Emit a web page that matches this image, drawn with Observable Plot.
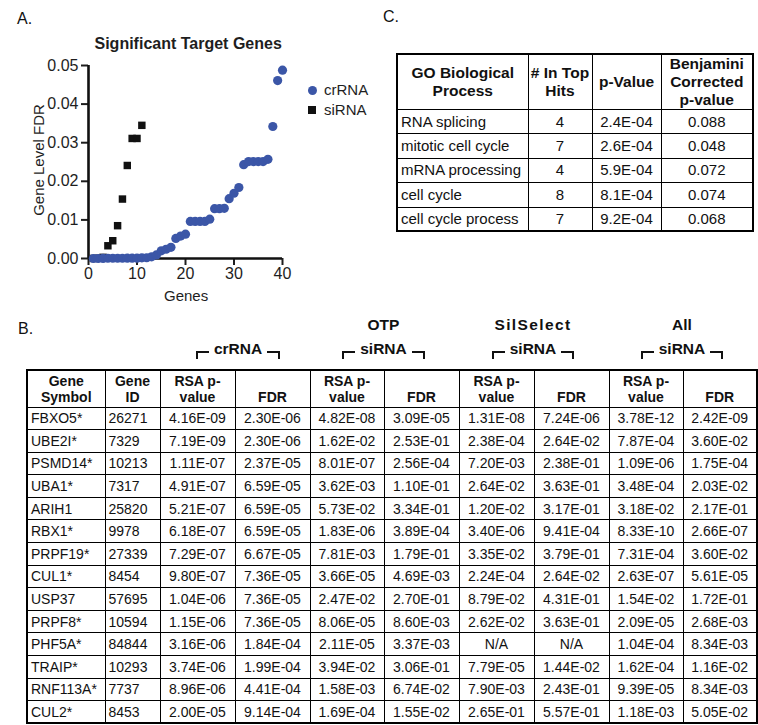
<!DOCTYPE html>
<html><head><meta charset="utf-8">
<script src="https://cdn.jsdelivr.net/npm/d3@7"></script>
<script src="https://cdn.jsdelivr.net/npm/@observablehq/plot@0.6"></script>
<style>
body{margin:0;background:#fff;font-family:"Liberation Sans",Arial,Helvetica,sans-serif;color:#111}
#page{position:relative;width:758px;height:725px;overflow:hidden;background:#fff}
.t{position:absolute;white-space:nowrap;line-height:1}
table{position:absolute;border-collapse:collapse;table-layout:fixed;border:2px solid #000}
td,th{border:1.5px solid #000;white-space:nowrap;overflow:hidden;padding:0 3px}
#tb{left:26px;top:369px;width:730px;font-size:14px}
#tb th{font-weight:bold;vertical-align:bottom;line-height:16px;padding-bottom:2px;text-align:center}
#tb thead tr{height:37px}
#tb tbody tr{height:22.6px}
#tb td{text-align:center;line-height:16px}
#tb td.l{text-align:left;padding-left:3px}
#tc{left:396px;top:53px;width:356px;font-size:15px}
#tc th{font-weight:bold;vertical-align:middle;line-height:18px;text-align:center;font-size:15.5px;padding:0 1px}
#tc thead tr{height:55px}
#tc tbody tr{height:24.4px}
#tc td{text-align:center;line-height:18px}
#tc td.l{text-align:left}
.grp{position:absolute;display:flex;justify-content:center;align-items:center;font-weight:bold;font-size:15.5px;line-height:1;white-space:nowrap}
.bl,.br{display:inline-block;width:11px;height:6px;margin-top:12px;border-top:2px solid #111}
.bl{border-left:2px solid #111;margin-right:5px}
.br{border-right:2px solid #111;margin-left:5px}
</style></head><body><div id="page"></div>
<script>
// ---- Panel A data ----
const crRnaFdr = [0.0000023,0.0000023,0.0000237,0.0000659,0.0000659,0.0000659,0.0000667,0.0000736,0.0000736,0.0000736,0.000184,0.000199,0.000441,0.000914,0.0020,0.0024,0.0029,0.0052,0.0058,0.0063,0.0096,0.0096,0.0096,0.0096,0.0102,0.0129,0.0129,0.0130,0.0155,0.0169,0.0184,0.0243,0.0251,0.0251,0.0251,0.0251,0.0257,0.0342,0.0461,0.0488];
const siRnaFdr = [0.00001,0.00005,0.0003,0.0033,0.0046,0.0085,0.0154,0.0241,0.0311,0.0311,0.0345];
const xTicks = [0,10,20,30,40];
const yTicks = [0,0.01,0.02,0.03,0.04,0.05];
const seriesNames = ["crRNA","siRNA"];

// ---- Panel C data ----
const goTerms = ["RNA splicing","mitotic cell cycle","mRNA processing","cell cycle","cell cycle process"];
const goCounts = ["4","7","4","8","7"];
const goPValues = ["2.4E-04","2.6E-04","5.9E-04","8.1E-04","9.2E-04"];
const goBenjamini = ["0.088","0.048","0.072","0.074","0.068"];

// ---- Panel B data ----
const geneSymbols = ["FBXO5*","UBE2I*","PSMD14*","UBA1*","ARIH1","RBX1*","PRPF19*","CUL1*","USP37","PRPF8*","PHF5A*","TRAIP*","RNF113A*","CUL2*"];
const geneIds = ["26271","7329","10213","7317","25820","9978","27339","8454","57695","10594","84844","10293","7737","8453"];
const crRnaP = ["4.16E-09","7.19E-09","1.11E-07","4.91E-07","5.21E-07","6.18E-07","7.29E-07","9.80E-07","1.04E-06","1.15E-06","3.16E-06","3.74E-06","8.96E-06","2.00E-05"];
const crRnaF = ["2.30E-06","2.30E-06","2.37E-05","6.59E-05","6.59E-05","6.59E-05","6.67E-05","7.36E-05","7.36E-05","7.36E-05","1.84E-04","1.99E-04","4.41E-04","9.14E-04"];
const otpP = ["4.82E-08","1.62E-02","8.01E-07","3.62E-03","5.73E-02","1.83E-06","7.81E-03","3.66E-05","2.47E-02","8.06E-05","2.11E-05","3.94E-02","1.58E-03","1.69E-04"];
const otpF = ["3.09E-05","2.53E-01","2.56E-04","1.10E-01","3.34E-01","3.89E-04","1.79E-01","4.69E-03","2.70E-01","8.60E-03","3.37E-03","3.06E-01","6.74E-02","1.55E-02"];
const silP = ["1.31E-08","2.38E-04","7.20E-03","2.64E-02","1.20E-02","3.40E-06","3.35E-02","2.24E-04","8.79E-02","2.62E-02","N/A","7.79E-05","7.90E-03","2.65E-01"];
const silF = ["7.24E-06","2.64E-02","2.38E-01","3.63E-01","3.17E-01","9.41E-04","3.79E-01","2.64E-02","4.31E-01","3.63E-01","N/A","1.44E-02","2.43E-01","5.57E-01"];
const allP = ["3.78E-12","7.87E-04","1.09E-06","3.48E-04","3.18E-02","8.33E-10","7.31E-04","2.63E-07","1.54E-02","2.09E-05","1.04E-04","1.62E-04","9.39E-05","1.18E-03"];
const allF = ["2.42E-09","3.60E-02","1.75E-04","2.03E-02","2.17E-01","2.66E-07","3.60E-02","5.61E-05","1.72E-01","2.68E-03","8.34E-03","1.16E-02","8.34E-03","5.05E-02"];
const groupTop = ["", "OTP", "SilSelect", "All"];
const groupBottom = ["crRNA", "siRNA", "siRNA", "siRNA"];

const BLUE = "#3b56a7";
const page = document.getElementById("page");

function txt(s, x, baseline, size, opts = {}) {
  const d = document.createElement("div");
  d.className = "t";
  d.textContent = s;
  d.style.fontSize = size + "px";
  d.style.top = (baseline - 0.8465 * size) + "px";
  if (opts.weight) d.style.fontWeight = opts.weight;
  if (opts.color) d.style.color = opts.color;
  page.appendChild(d);
  if (opts.anchor === "middle") d.style.left = (x - d.offsetWidth / 2) + "px";
  else d.style.left = x + "px";
  return d;
}

// ---- Panel A ----
const crData = crRnaFdr.map((v, i) => ({gene: i + 1, fdr: v}));
const siData = siRnaFdr.map((v, i) => ({gene: i + 1, fdr: v}));
const chart = Plot.plot({
  width: 380, height: 310,
  marginLeft: 88, marginRight: 98, marginTop: 65, marginBottom: 52,
  style: {fontFamily: "Liberation Sans, Arial, sans-serif", fontSize: "16px", color: "#1e1e1e", background: "transparent", overflow: "visible"},
  x: {domain: [0, 40], label: null},
  y: {domain: [0, 0.05], label: null},
  marks: [
    Plot.axisX({ticks: xTicks, tickSize: 7, tickPadding: 2, strokeWidth: 2, label: null}),
    Plot.axisY({ticks: yTicks, tickSize: 7, tickPadding: 3, strokeWidth: 2, tickFormat: d3.format(".2f"), label: null}),
    Plot.ruleX([0], {stroke: "#111", strokeWidth: 2.6}),
    Plot.ruleY([0], {stroke: "#111", strokeWidth: 2.6}),
    Plot.dot(siData, {x: "gene", y: "fdr", symbol: "square", r: 4.2, fill: "#111"}),
    Plot.dot(crData, {x: "gene", y: "fdr", r: 4.6, fill: BLUE})
  ]
});
const wrap = document.createElement("div");
wrap.style.cssText = "position:absolute;left:0;top:0";
wrap.appendChild(chart);
page.appendChild(wrap);

txt("A.", 17, 25, 16);
txt("Significant Target Genes", 188, 50, 16, {weight: "bold", anchor: "middle", color: "#1e1e1e"});
txt("Genes", 186, 301, 15, {anchor: "middle", color: "#1e1e1e"});
const yl = document.createElement("div");
yl.className = "t";
yl.textContent = "Gene Level FDR";
yl.style.cssText += ";font-size:15px;color:#1e1e1e;left:38px;top:160px;transform:translate(-50%,-50%) rotate(-90deg)";
page.appendChild(yl);

// legend
function legendItem(label, baseline, shape) {
  const s = document.createElement("div");
  s.style.position = "absolute";
  if (shape === "circle") {
    s.style.cssText += `;width:9px;height:9px;border-radius:50%;background:${BLUE};left:${312-4.5}px;top:${baseline-5-4.5}px`;
  } else {
    s.style.cssText += `;width:7.5px;height:7.5px;background:#111;left:${312-3.75}px;top:${baseline-5-3.75}px`;
  }
  page.appendChild(s);
  txt(label, 324, baseline, 15, {color: "#1e1e1e"});
}
legendItem(seriesNames[0], 95, "circle");
legendItem(seriesNames[1], 115, "square");

// ---- Panel C ----
txt("C.", 383, 23, 16);
const tc = document.createElement("table");
tc.id = "tc";
const tcWidths = [131, 64, 69, 92];
let h = "<colgroup>" + tcWidths.map(w => `<col style="width:${w}px">`).join("") + "</colgroup>";
h += "<thead><tr><th>GO Biological<br>Process</th><th># In Top<br>Hits</th><th>p-Value</th><th>Benjamini<br>Corrected<br>p-value</th></tr></thead><tbody>";
goTerms.forEach((g, i) => {
  h += `<tr><td class="l">${g}</td><td>${goCounts[i]}</td><td>${goPValues[i]}</td><td>${goBenjamini[i]}</td></tr>`;
});
h += "</tbody>";
tc.innerHTML = h;
page.appendChild(tc);

// ---- Panel B ----
txt("B.", 18, 335, 16);
const tbWidths = [78, 55, 75, 75, 74, 75, 75, 75, 74, 74];
const tb = document.createElement("table");
tb.id = "tb";
h = "<colgroup>" + tbWidths.map(w => `<col style="width:${w}px">`).join("") + "</colgroup>";
h += "<thead><tr><th>Gene<br>Symbol</th><th>Gene<br>ID</th>";
for (let k = 0; k < 4; k++) h += "<th>RSA p-<br>value</th><th>FDR</th>";
h += "</tr></thead><tbody>";
geneSymbols.forEach((g, i) => {
  h += `<tr><td class="l">${g}</td><td class="l">${geneIds[i]}</td><td>${crRnaP[i]}</td><td>${crRnaF[i]}</td><td>${otpP[i]}</td><td>${otpF[i]}</td><td>${silP[i]}</td><td>${silF[i]}</td><td>${allP[i]}</td><td>${allF[i]}</td></tr>`;
});
h += "</tbody>";
tb.innerHTML = h;
page.appendChild(tb);

// group headers
let left = 26 + tbWidths[0] + tbWidths[1];
for (let g = 0; g < 4; g++) {
  const w = tbWidths[2 + 2 * g] + tbWidths[3 + 2 * g];
  if (groupTop[g]) {
    const a = document.createElement("div");
    a.className = "grp";
    a.style.cssText += `;left:${left}px;width:${w}px;top:317px;height:16px`;
    if (groupTop[g] === "SilSelect") a.style.letterSpacing = "1.4px";
    a.textContent = groupTop[g];
    page.appendChild(a);
  }
  const b = document.createElement("div");
  b.className = "grp";
  b.style.cssText += `;left:${left + (g === 0 ? 4 : 0)}px;width:${w}px;top:341px;height:16px`;
  b.innerHTML = `<span class="bl"></span><span>${groupBottom[g]}</span><span class="br"></span>`;
  page.appendChild(b);
  left += w;
}
</script></body></html>
